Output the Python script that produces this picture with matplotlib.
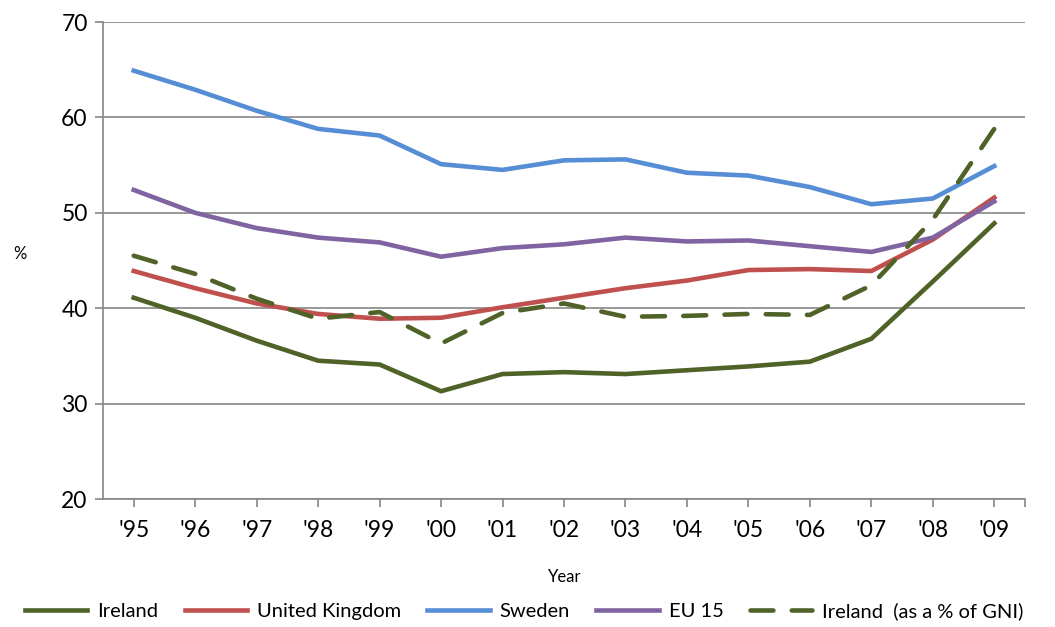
import matplotlib.pyplot as plt
import numpy as np

plt.rcParams['font.family'] = ['Lato', 'DejaVu Sans']

years = ["'95", "'96", "'97", "'98", "'99", "'00", "'01", "'02", "'03", "'04",
         "'05", "'06", "'07", "'08", "'09"]
ireland = [41.1, 39.0, 36.6, 34.5, 34.1, 31.3, 33.1, 33.3, 33.1, 33.5, 33.9, 34.4, 36.8, 42.8, 48.9]
uk = [43.9, 42.1, 40.5, 39.4, 38.9, 39.0, 40.1, 41.1, 42.1, 42.9, 44.0, 44.1, 43.9, 47.2, 51.6]
sweden = [64.9, 62.9, 60.7, 58.8, 58.1, 55.1, 54.5, 55.5, 55.6, 54.2, 53.9, 52.7, 50.9, 51.5, 54.9]
eu15 = [52.4, 50.0, 48.4, 47.4, 46.9, 45.4, 46.3, 46.7, 47.4, 47.0, 47.1, 46.5, 45.9, 47.4, 51.2]
ireland_gni = [45.5, 43.6, 41.0, 38.9, 39.6, 36.3, 39.5, 40.5, 39.1, 39.2, 39.4, 39.3, 42.4, 49.3, 58.8]

x = np.arange(len(years))

fig = plt.figure(figsize=(10.55, 6.27), dpi=100)
ax = fig.add_axes([0.0976, 0.2041, 0.874, 0.7608])

lw = 3.3
ax.plot(x, ireland, color='#4F6228', lw=lw, label='Ireland')
ax.plot(x, uk, color='#C0504D', lw=lw, label='United Kingdom')
ax.plot(x, sweden, color='#558ED5', lw=lw, label='Sweden')
ax.plot(x, eu15, color='#8064A2', lw=lw, label='EU 15')
ax.plot(x, ireland_gni, color='#4F6228', lw=lw, ls=(0, (5, 4)),
        dash_capstyle='round', label='Ireland  (as a % of GNI)')

ax.set_xlim(-0.5, 14.5)
ax.set_ylim(20, 70)
ax.set_yticks(np.arange(20, 71, 10))
ax.set_xticks(x)
ax.set_xticklabels(years)
ax.set_xticks([14.5], minor=True)
ax.tick_params(axis='both', which='both', direction='out', length=6, width=1.2,
               color='#868686', labelsize=16.5, pad=5)
ax.tick_params(axis='x', pad=9)
ax.grid(axis='y', color='#868686', lw=1.2)
ax.set_axisbelow(True)
for s in ['top', 'right']:
    ax.spines[s].set_visible(False)
for s in ['left', 'bottom']:
    ax.spines[s].set_color('#868686')
    ax.spines[s].set_linewidth(1.2)

fig.text(0.019, 0.595, '%', fontsize=12, ha='center', va='center')
fig.text(0.535, 0.08, 'Year', fontsize=12, ha='center', va='center')

fig.legend(loc='lower center', bbox_to_anchor=(0.497, -0.018), ncol=5, frameon=False,
           fontsize=14.5, handlelength=3.1, handletextpad=0.5, columnspacing=1.3)

fig.savefig('out.png', dpi=100)
